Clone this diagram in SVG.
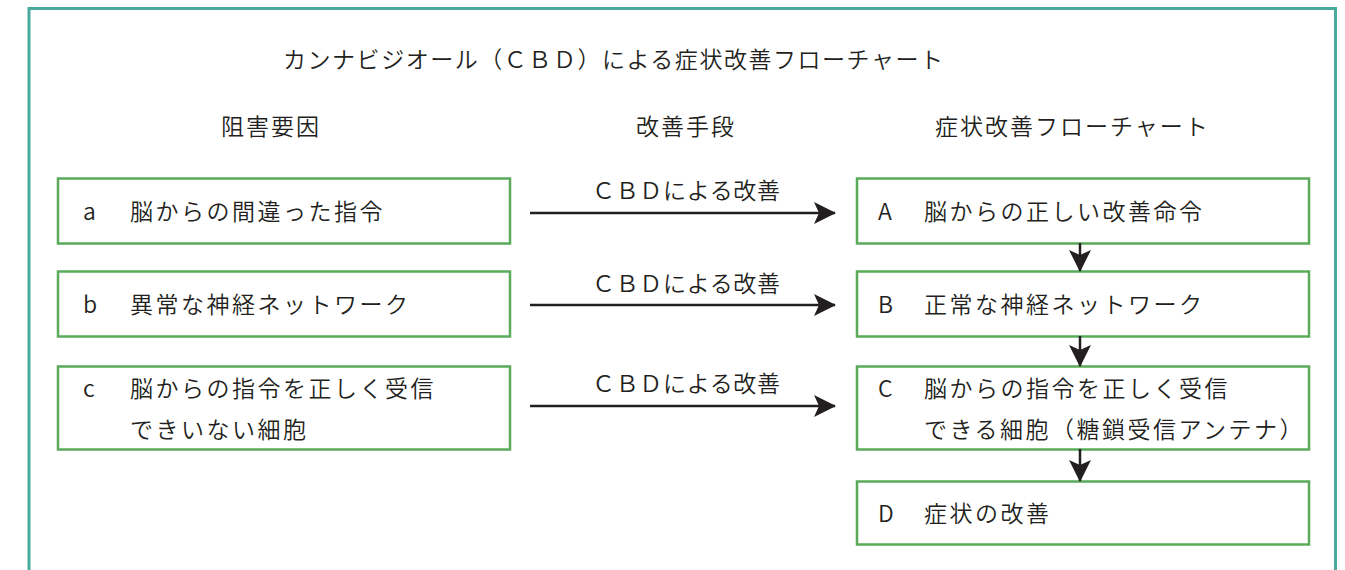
<svg xmlns="http://www.w3.org/2000/svg" width="1345" height="570" viewBox="0 0 1345 570">
<defs>
<style>
text{font-family:"Noto Sans CJK JP","Noto Sans",sans-serif;fill:#231f20;font-size:23px;font-weight:350}
.t{letter-spacing:2.5px}
.h{letter-spacing:2px}
.box{fill:#fff;stroke:#5aaa5a;stroke-width:2.5}
.conn{stroke:#231f20;stroke-width:2.5;fill:none}
</style>
<marker id="ah" viewBox="0 0 22 22" refX="21" refY="11" markerWidth="22" markerHeight="22" markerUnits="userSpaceOnUse" orient="auto">
<path d="M0,0 L22,11 L0,22 L5,11 Z" fill="#231f20"/>
</marker>
</defs>
<rect x="0" y="0" width="1345" height="570" fill="#fff"/>
<path d="M29,575 V8.5 H1335.5 V575" fill="none" stroke="#4aaa9e" stroke-width="3"/>
<text x="283" y="68" textLength="660" lengthAdjust="spacing">カンナビジオール（ＣＢＤ）による症状改善フローチャート</text>
<text class="h" x="221" y="135">阻害要因</text>
<text class="h" x="636" y="135">改善手段</text>
<text class="h" x="935" y="135">症状改善フローチャート</text>
<g id="node-a"><rect class="box" x="58" y="178.5" width="452" height="65"/><text x="83" y="220">a</text><text class="t" x="130" y="220">脳からの間違った指令</text></g>
<g id="node-b"><rect class="box" x="58" y="271.5" width="452" height="65"/><text x="83" y="313">b</text><text class="t" x="130" y="313">異常な神経ネットワーク</text></g>
<g id="node-c"><rect class="box" x="58" y="366.5" width="452" height="83"/><text x="83" y="397">c</text><text class="t" x="130" y="397">脳からの指令を正しく受信</text><text class="t" x="130" y="438">できいない細胞</text></g>
<g id="node-A"><rect class="box" x="857" y="178.5" width="452" height="65"/><text x="878" y="220">A</text><text class="t" x="924" y="220">脳からの正しい改善命令</text></g>
<g id="node-B"><rect class="box" x="857" y="271.5" width="452" height="65"/><text x="878" y="313">B</text><text class="t" x="924" y="313">正常な神経ネットワーク</text></g>
<g id="node-C"><rect class="box" x="857" y="366.5" width="452" height="83"/><text x="878" y="397">C</text><text class="t" x="924" y="397">脳からの指令を正しく受信</text><text class="t" x="924" y="438">できる細胞（糖鎖受信アンテナ）</text></g>
<g id="node-D"><rect class="box" x="857" y="481.5" width="452" height="63"/><text x="878" y="522">D</text><text class="t" x="924" y="522">症状の改善</text></g>
<g id="connectors">
<line class="conn" x1="530" y1="213" x2="835" y2="213" marker-end="url(#ah)"/>
<line class="conn" x1="530" y1="305" x2="835" y2="305" marker-end="url(#ah)"/>
<line class="conn" x1="530" y1="406" x2="835" y2="406" marker-end="url(#ah)"/>
<line class="conn" x1="1080" y1="243" x2="1080" y2="271" marker-end="url(#ah)"/>
<line class="conn" x1="1080" y1="336" x2="1080" y2="366" marker-end="url(#ah)"/>
<line class="conn" x1="1080" y1="449" x2="1080" y2="481" marker-end="url(#ah)"/>
<text x="592" y="199" textLength="188" lengthAdjust="spacing">ＣＢＤによる改善</text>
<text x="592" y="292" textLength="188" lengthAdjust="spacing">ＣＢＤによる改善</text>
<text x="592" y="392" textLength="188" lengthAdjust="spacing">ＣＢＤによる改善</text>
</g>
</svg>
